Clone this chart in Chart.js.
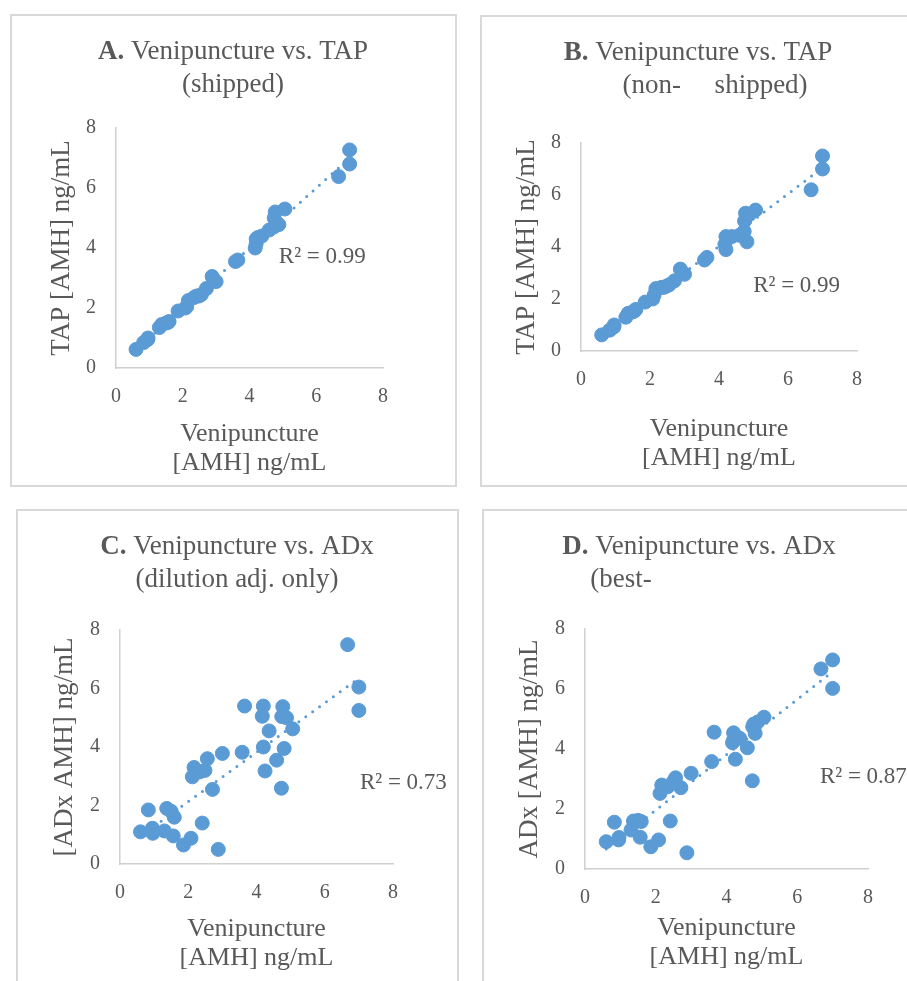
<!DOCTYPE html>
<html>
<head>
<meta charset="utf-8">
<script src="https://cdn.jsdelivr.net/npm/chart.js@4"></script>
<style>
    body {
        margin: 0;
        width: 907px;
        height: 981px;
        background: #ffffff;
        position: relative;
        overflow: hidden;
    }

    .painel {
        position: absolute;
        box-sizing: border-box;
        border: 2px solid #D9D9D9;
    }

    canvas {
        position: absolute;
    }
</style>
</head>
<body>
<div class="painel" style="left:10px; top:14px; width:447px; height:473px;"></div>
<div class="painel" style="left:480px; top:15px; width:440px; height:472px;"></div>
<div class="painel" style="left:16px; top:509px; width:443px; height:480px;"></div>
<div class="painel" style="left:482px; top:509px; width:440px; height:480px;"></div>

<canvas id="chartA" width="445" height="471" style="left:11px; top:15px;"></canvas>
<canvas id="chartB" width="426" height="470" style="left:481px; top:16px;"></canvas>
<canvas id="chartC" width="441" height="471" style="left:17px; top:510px;"></canvas>
<canvas id="chartD" width="424" height="471" style="left:483px; top:510px;"></canvas>

<script>
// venipuncture [AMH] ng/mL (same subjects in every panel)
const venipuncture = [0.60, 0.83, 0.95, 0.96, 1.30, 1.37, 1.50, 1.56, 1.59, 1.86, 2.08, 2.12, 2.17, 2.34, 2.41, 2.49, 2.56, 2.71, 2.88, 3.00, 3.58, 3.65, 4.17, 4.20, 4.20, 4.25, 4.37, 4.59, 4.73, 4.74, 4.77, 4.81, 4.88, 5.06, 6.67, 7.00, 7.00];

const tapShipped = [0.62, 0.85, 0.95, 1.00, 1.35, 1.45, 1.50, 1.52, 1.55, 1.90, 2.00, 2.05, 2.25, 2.35, 2.40, 2.40, 2.45, 2.65, 3.05, 2.88, 3.55, 3.60, 4.00, 4.30, 4.15, 4.35, 4.40, 4.60, 4.70, 5.00, 5.20, 4.80, 4.78, 5.30, 6.38, 7.27, 6.80];
const tapNonShipped = [0.62, 0.80, 0.92, 1.00, 1.30, 1.45, 1.50, 1.55, 1.60, 1.88, 2.00, 2.15, 2.40, 2.45, 2.45, 2.50, 2.55, 2.70, 3.15, 2.95, 3.50, 3.60, 4.10, 4.40, 3.90, 4.35, 4.40, 4.45, 4.60, 5.00, 5.30, 4.20, 5.25, 5.42, 6.20, 7.50, 7.00];
const adxDilution = [1.10, 1.85, 1.22, 1.05, 1.13, 1.90, 1.80, 0.96, 1.60, 0.65, 0.88, 2.98, 3.30, 3.15, 1.40, 3.20, 3.60, 2.55, 0.50, 3.78, 3.82, 5.40, 5.05, 5.40, 4.00, 3.18, 4.55, 3.55, 2.59, 5.04, 5.38, 3.95, 5.00, 4.62, 7.50, 6.05, 5.25];
const adxBestFit = [0.91, 1.56, 0.97, 1.05, 1.30, 1.60, 1.62, 1.06, 1.58, 0.74, 0.97, 2.52, 2.80, 2.74, 1.60, 2.90, 3.04, 2.71, 0.54, 3.19, 3.58, 4.56, 4.21, 4.54, 4.30, 3.66, 4.36, 4.04, 2.94, 4.74, 4.83, 4.52, 4.90, 5.06, 6.67, 6.97, 6.02];

// linear trendlines (start / end)
const trendX = [0.6, 7.0];
const trendA = [0.60, 7.00];
const trendB = [0.60, 7.05];
const trendC = [0.95, 6.35];
const trendD = [0.67, 6.58];

const rSquared = ["0.99", "0.99", "0.73", "0.87"];
const axisTicks = [0, 2, 4, 6, 8];

const FONTE = "'Liberation Serif', 'DejaVu Serif', serif";
const CINZA = "#595959";
const AZUL = "#5B9BD5";

const tituloPlugin = {
    id: 'titulo',
    afterDraw(chart, args, opts) {
        const ctx = chart.ctx;
        ctx.save();
        ctx.fillStyle = CINZA;
        ctx.textBaseline = 'middle';
        ctx.textAlign = 'left';

        for (let i = 0; i < opts.linhas.length; i++) {
            const linha = opts.linhas[i];
            let total = 0;
            for (let j = 0; j < linha.partes.length; j++) {
                ctx.font = `${linha.partes[j].bold ? 'bold ' : ''}${opts.size}px ${FONTE}`;
                total += ctx.measureText(linha.partes[j].t).width;
            }

            let x = linha.cx - total / 2;
            for (let j = 0; j < linha.partes.length; j++) {
                ctx.font = `${linha.partes[j].bold ? 'bold ' : ''}${opts.size}px ${FONTE}`;
                ctx.fillText(linha.partes[j].t, x, linha.cy);
                x += ctx.measureText(linha.partes[j].t).width;
            }
        }

        // R² label, anchored in data units
        const xs = chart.scales.x;
        const ys = chart.scales.y;
        ctx.font = `23px ${FONTE}`;
        ctx.fillText(opts.r2.text, xs.getPixelForValue(opts.r2.x), ys.getPixelForValue(opts.r2.y));
        ctx.restore();
    }
};

function criarGrafico(id, cfg) {
    const pontos = [];
    for (let i = 0; i < venipuncture.length; i++) {
        pontos.push({ x: venipuncture[i], y: cfg.valores[i] });
    }

    const tendencia = [];
    for (let i = 0; i < trendX.length; i++) {
        tendencia.push({ x: trendX[i], y: cfg.tendencia[i] });
    }

    new Chart(document.getElementById(id), {
        type: 'scatter',
        data: {
            datasets: [
                {
                    data: tendencia,
                    showLine: true,
                    borderColor: AZUL,
                    borderWidth: 3,
                    borderDash: [0, 8.5],
                    borderCapStyle: 'round',
                    pointRadius: 0,
                    fill: false,
                    order: 0
                },
                {
                    data: pontos,
                    backgroundColor: AZUL,
                    borderColor: AZUL,
                    borderWidth: 1,
                    pointRadius: 7,
                    pointHoverRadius: 7,
                    order: 1
                }
            ]
        },
        options: {
            responsive: false,
            animation: false,
            devicePixelRatio: 1,
            layout: {
                padding: { left: 0, top: cfg.topo, right: cfg.direita, bottom: 0 }
            },
            plugins: {
                legend: { display: false },
                tooltip: { enabled: false },
                titulo: {
                    size: 27,
                    linhas: cfg.titulo,
                    r2: cfg.r2
                }
            },
            scales: {
                x: {
                    type: 'linear',
                    min: 0,
                    max: 8,
                    afterBuildTicks: (s) => { s.ticks = axisTicks.map(v => ({ value: v })); },
                    ticks: { color: CINZA, font: { family: FONTE, size: 20 }, padding: 17 },
                    grid: { display: false, drawTicks: false },
                    border: { display: true, color: '#D0D0D0', width: 1.5 },
                    title: {
                        display: true,
                        text: ['Venipuncture', '[AMH] ng/mL'],
                        color: CINZA,
                        font: { family: FONTE, size: 26, lineHeight: 1.13 },
                        padding: { top: 0, bottom: cfg.xPad }
                    },
                    afterFit: (s) => { s.height = cfg.xAltura; }
                },
                y: {
                    type: 'linear',
                    min: 0,
                    max: 8,
                    afterBuildTicks: (s) => { s.ticks = axisTicks.map(v => ({ value: v })); },
                    ticks: { color: CINZA, font: { family: FONTE, size: 20 }, padding: 20 },
                    grid: { display: false, drawTicks: false },
                    border: { display: true, color: '#D0D0D0', width: 1.5 },
                    title: {
                        display: true,
                        text: cfg.yTitulo,
                        color: CINZA,
                        font: { family: FONTE, size: 27, lineHeight: 1.13 },
                        padding: { top: cfg.yPad, bottom: 0 }
                    },
                    afterFit: (s) => { s.width = cfg.yLargura; }
                }
            }
        },
        plugins: [tituloPlugin]
    });
}

document.addEventListener("DOMContentLoaded", () => {
    criarGrafico("chartA", {
        valores: tapShipped,
        tendencia: trendA,
        yTitulo: 'TAP [AMH] ng/mL',
        topo: 113, direita: 73, yLargura: 105, xAltura: 118, xPad: 8, yPad: 36,
        titulo: [
            { cx: 222, cy: 37, partes: [{ t: 'A.', bold: true }, { t: ' Venipuncture vs. TAP' }] },
            { cx: 222, cy: 70, partes: [{ t: '(shipped)' }] }
        ],
        r2: { text: `R² = ${rSquared[0]}`, x: 4.88, y: 3.7 }
    });

    criarGrafico("chartB", {
        valores: tapNonShipped,
        tendencia: trendB,
        yTitulo: 'TAP [AMH] ng/mL',
        topo: 127, direita: 50, yLargura: 100, xAltura: 135, xPad: 13, yPad: 31,
        titulo: [
            { cx: 217, cy: 37, partes: [{ t: 'B.', bold: true }, { t: ' Venipuncture vs. TAP' }] },
            { cx: 234, cy: 70, partes: [{ t: '(non-     shipped)' }] }
        ],
        r2: { text: `R² = ${rSquared[1]}`, x: 4.99, y: 2.5 }
    });

    criarGrafico("chartC", {
        valores: adxDilution,
        tendencia: trendC,
        yTitulo: '[ADx AMH] ng/mL',
        topo: 120, direita: 65, yLargura: 103, xAltura: 117, xPad: 8, yPad: 33,
        titulo: [
            { cx: 220, cy: 37, partes: [{ t: 'C.', bold: true }, { t: ' Venipuncture vs. ADx' }] },
            { cx: 220, cy: 70, partes: [{ t: '(dilution adj. only)' }] }
        ],
        r2: { text: `R² = ${rSquared[2]}`, x: 7.03, y: 2.77 }
    });

    criarGrafico("chartD", {
        valores: adxBestFit,
        tendencia: trendD,
        yTitulo: 'ADx [AMH] ng/mL',
        topo: 119, direita: 39, yLargura: 102, xAltura: 112, xPad: 9, yPad: 32,
        titulo: [
            { cx: 216, cy: 37, partes: [{ t: 'D.', bold: true }, { t: ' Venipuncture vs. ADx' }] },
            { cx: 138, cy: 70, partes: [{ t: '(best-' }] }
        ],
        r2: { text: `R² = ${rSquared[3]}`, x: 6.64, y: 3.07 }
    });
});
</script>
</body>
</html>
